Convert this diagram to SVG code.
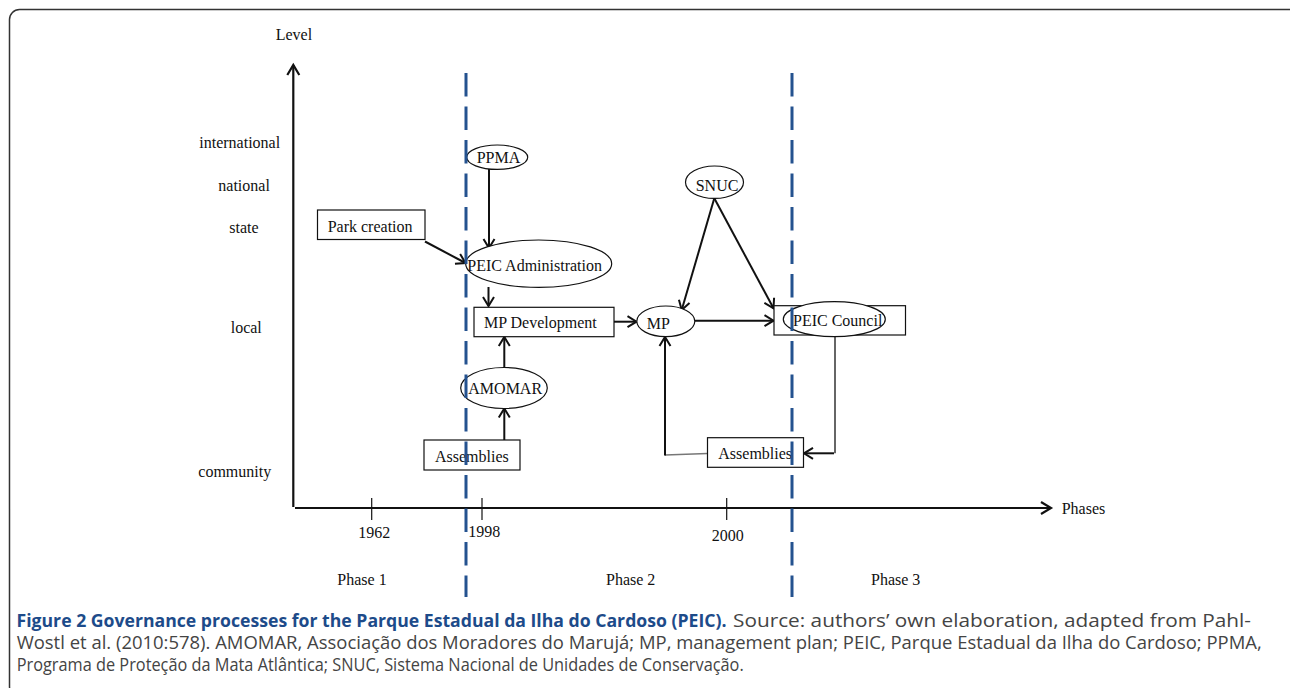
<svg xmlns="http://www.w3.org/2000/svg" width="1290" height="688" viewBox="0 0 1290 688">
<style>
.t{font-family:"Liberation Serif","Times New Roman",serif;font-size:16px;fill:#111}
.box{fill:#fff;stroke:#111;stroke-width:1.2}
.ell{fill:#fff;stroke:#111;stroke-width:1.2}
.con{fill:none;stroke:#111;stroke-width:2}
.axis{fill:none;stroke:#111;stroke-width:2.2}
.tick{stroke:#111;stroke-width:1.2}
.dash{stroke:#24528f;stroke-width:3;stroke-dasharray:23.5 10}
.cap{font-family:"Open Sans","Liberation Sans",sans-serif;font-size:18px;fill:#444}
.capb{font-family:"Open Sans","Liberation Sans",sans-serif;font-size:18px;font-weight:bold;fill:#1d4b8a}
</style>
<defs>
<marker id="ah" markerUnits="userSpaceOnUse" markerWidth="14" markerHeight="14" refX="10" refY="6" orient="auto" overflow="visible">
<path d="M1,0.5 L10,6 L1,11.5" fill="none" stroke="#111" stroke-width="2"/>
</marker>
<marker id="axh" markerUnits="userSpaceOnUse" markerWidth="14" markerHeight="14" refX="11" refY="6.5" orient="auto" overflow="visible">
<path d="M1,0.5 L11,6.5 L1,12.5" fill="none" stroke="#111" stroke-width="2.2"/>
</marker>
</defs>
<rect x="9.5" y="9.5" width="1289" height="687" rx="10" fill="#fff" stroke="#333" stroke-width="1.5"/>

<g id="axes">
<line class="axis" x1="293.3" y1="507" x2="293.3" y2="65" marker-end="url(#axh)"/>
<line class="axis" x1="295" y1="508" x2="1051" y2="508" marker-end="url(#axh)"/>
<line class="tick" x1="371.7" y1="498" x2="371.7" y2="520"/>
<line class="tick" x1="482" y1="498" x2="482" y2="520"/>
<line class="tick" x1="726.7" y1="498" x2="726.7" y2="520"/>
</g>

<g id="labels">
<text class="t" x="275.7" y="40">Level</text>
<text class="t" x="199.3" y="148">international</text>
<text class="t" x="218.3" y="190.5">national</text>
<text class="t" x="229.3" y="233">state</text>
<text class="t" x="230.7" y="333">local</text>
<text class="t" x="198.3" y="477">community</text>
<text class="t" x="358.3" y="538">1962</text>
<text class="t" x="468.3" y="536.5">1998</text>
<text class="t" x="711.7" y="540.5">2000</text>
<text class="t" x="1061.7" y="514">Phases</text>
<text class="t" x="337.3" y="585">Phase 1</text>
<text class="t" x="606" y="585">Phase 2</text>
<text class="t" x="871" y="585">Phase 3</text>
</g>

<g id="connectors">
<line class="con" x1="489" y1="169" x2="489" y2="248" marker-end="url(#ah)"/>
<line class="con" x1="425" y1="241.5" x2="465.5" y2="263" marker-end="url(#ah)"/>
<line class="con" x1="488.5" y1="287" x2="488.5" y2="306" marker-end="url(#ah)"/>
<line class="con" x1="614" y1="321.7" x2="636.5" y2="321.7" marker-end="url(#ah)"/>
<line class="con" x1="694.7" y1="320.7" x2="773.5" y2="320.7" marker-end="url(#ah)"/>
<line class="con" x1="714.3" y1="198.3" x2="681.7" y2="310" marker-end="url(#ah)"/>
<line class="con" x1="714.3" y1="198.3" x2="773.5" y2="308.3" marker-end="url(#ah)"/>
<line class="con" x1="504.3" y1="367.5" x2="504.3" y2="337" marker-end="url(#ah)"/>
<line class="con" x1="504.3" y1="440" x2="504.3" y2="408.5" marker-end="url(#ah)"/>
<line x1="835" y1="336.7" x2="835" y2="453.3" stroke="#666" stroke-width="2"/>
<path class="con" d="M834,453.3 H804" marker-end="url(#ah)"/>
<line x1="707.5" y1="453.5" x2="665" y2="455" stroke="#777" stroke-width="1.5"/>
<line class="con" x1="665" y1="455.5" x2="665" y2="337" marker-end="url(#ah)"/>
</g>

<g id="park-creation"><rect class="box" x="317.5" y="210" width="107.5" height="29.5"/><text class="t" x="327.7" y="231.7">Park creation</text></g>
<g id="ppma"><ellipse class="ell" cx="497.2" cy="157.2" rx="30.5" ry="12.2"/><text class="t" x="476.7" y="163">PPMA</text></g>
<g id="peic-administration"><ellipse class="ell" cx="538.7" cy="263.7" rx="73" ry="23.7"/><text class="t" x="467.3" y="270.7">PEIC Administration</text></g>
<g id="mp-development"><rect class="box" x="474" y="307.3" width="140" height="29.4"/><text class="t" x="484" y="328.3">MP Development</text></g>
<g id="mp"><ellipse class="ell" cx="665.8" cy="321.3" rx="29" ry="15.3"/><text class="t" x="646.7" y="329">MP</text></g>
<g id="snuc"><ellipse class="ell" cx="714.5" cy="182.2" rx="29" ry="16.2"/><text class="t" x="695.7" y="190.7">SNUC</text></g>
<g id="peic-council"><rect class="box" x="774" y="305.7" width="131.5" height="29.3"/><ellipse class="ell" cx="834.3" cy="319.2" rx="51" ry="17.5"/><text class="t" x="793" y="326">PEIC Council</text></g>
<g id="amomar"><ellipse class="ell" cx="504" cy="388" rx="43.3" ry="20.5"/><text class="t" x="468.3" y="394.3">AMOMAR</text></g>
<g id="assemblies-1"><rect class="box" x="424" y="440" width="96" height="30"/><text class="t" x="435" y="461.7">Assemblies</text></g>
<g id="assemblies-2"><rect class="box" x="707.5" y="437.7" width="96" height="29.6"/><text class="t" x="718.3" y="458.7">Assemblies</text></g>

<g id="phase-dividers">
<line class="dash" x1="466" y1="73" x2="466" y2="597"/>
<line class="dash" x1="792" y1="73" x2="792" y2="597"/>
</g>

<g id="caption">
<text class="capb" x="16.5" y="627" textLength="710" lengthAdjust="spacingAndGlyphs">Figure 2 Governance processes for the Parque Estadual da Ilha do Cardoso (PEIC).</text>
<text class="cap" x="733" y="627" textLength="518" lengthAdjust="spacingAndGlyphs">Source: authors’ own elaboration, adapted from Pahl-</text>
<text class="cap" x="16.7" y="649" textLength="1245" lengthAdjust="spacingAndGlyphs">Wostl et al. (2010:578). AMOMAR, Associação dos Moradores do Marujá; MP, management plan; PEIC, Parque Estadual da Ilha do Cardoso; PPMA,</text>
<text class="cap" x="16.7" y="671" textLength="727" lengthAdjust="spacingAndGlyphs">Programa de Proteção da Mata Atlântica; SNUC, Sistema Nacional de Unidades de Conservação.</text>
</g>
</svg>
